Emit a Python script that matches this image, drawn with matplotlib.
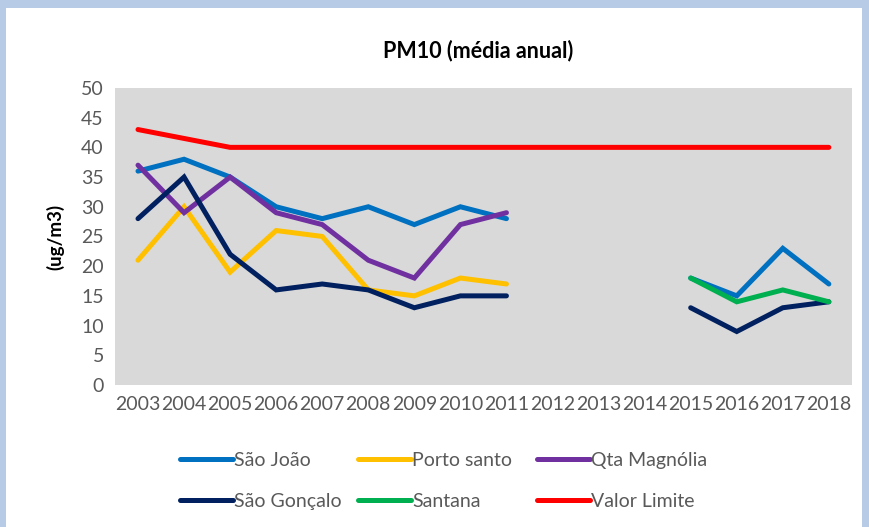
import numpy as np
import matplotlib.pyplot as plt
from matplotlib.patches import Rectangle

years = [str(y) for y in range(2003, 2019)]
nan = np.nan

# values per year 2003..2018 (gaps where no data)
sao_joao = [36, 38, 35, 30, 28, 30, 27, 30, 28, nan, nan, nan, 18, 15, 23, 17]
porto_santo = [21, 30, 19, 26, 25, 16, 15, 18, 17, nan, nan, nan, nan, nan, nan, nan]
qta_magnolia = [37, 29, 35, 29, 27, 21, 18, 27, 29, nan, nan, nan, nan, nan, nan, nan]
sao_goncalo = [28, 35, 22, 16, 17, 16, 13, 15, 15, nan, nan, nan, 13, 9, 13, 14]
santana = [nan, nan, nan, nan, nan, nan, nan, nan, nan, nan, nan, nan, 18, 14, 16, 14]
valor_limite = [43, 41.5, 40, 40, 40, 40, 40, 40, 40, 40, 40, 40, 40, 40, 40, 40]

series = [
    ('São João', sao_joao, '#0070c0'),
    ('Porto santo', porto_santo, '#ffc000'),
    ('Qta Magnólia', qta_magnolia, '#7030a0'),
    ('São Gonçalo', sao_goncalo, '#002060'),
    ('Santana', santana, '#00b050'),
    ('Valor Limite', valor_limite, '#ff0000'),
]

plt.rcParams['font.family'] = ['Lato', 'DejaVu Sans']

fig = plt.figure(figsize=(8.69, 5.27), dpi=100)
fig.patch.set_facecolor('#b7cbe6')
fig.patches.append(Rectangle((6 / 869, 0), 856 / 869, 1 - 8 / 527,
                             transform=fig.transFigure, facecolor='white',
                             edgecolor='none', zorder=-5))

ax = fig.add_axes([0.1323, 0.2695, 0.848, 0.5636])
ax.set_zorder(2)
ax.set_facecolor('#d9d9d9')
x = np.arange(len(years))
lines = {}
for name, vals, col in series:
    ln, = ax.plot(x, vals, color=col, lw=3.6, solid_capstyle='round',
                  solid_joinstyle='miter', label=name)
    lines[name] = ln

ax.set_xlim(-0.5, len(years) - 0.5)
ax.set_ylim(0, 50)
ax.set_yticks(range(0, 51, 5))
ax.set_xticks(x)
ax.set_xticklabels(years)
ax.tick_params(length=0, labelsize=14, colors='#595959', pad=8)
for s in ax.spines.values():
    s.set_visible(False)

ax.set_ylabel('(ug/m3)', fontsize=13.5, fontweight='bold', labelpad=12)
fig.text(0.55, 0.905, 'PM10 (média anual)', ha='center', va='center',
         fontsize=15.5, fontweight='bold')

# legend: three fixed-width columns like the original
columns = [['São João', 'São Gonçalo'], ['Porto santo', 'Santana'],
           ['Qta Magnólia', 'Valor Limite']]
col_x = [180, 358, 537]
for names, cx in zip(columns, col_x):
    leg = fig.legend([lines[n] for n in names], names, loc='center left',
                     bbox_to_anchor=(cx / 869, 0.087), frameon=False,
                     fontsize=14, handlelength=2.7, handletextpad=0.1,
                     labelspacing=1.25, borderpad=0, borderaxespad=0,
                     labelcolor='#595959')
    leg.set_zorder(3)

fig.savefig('out.png', dpi=100, facecolor=fig.get_facecolor())
